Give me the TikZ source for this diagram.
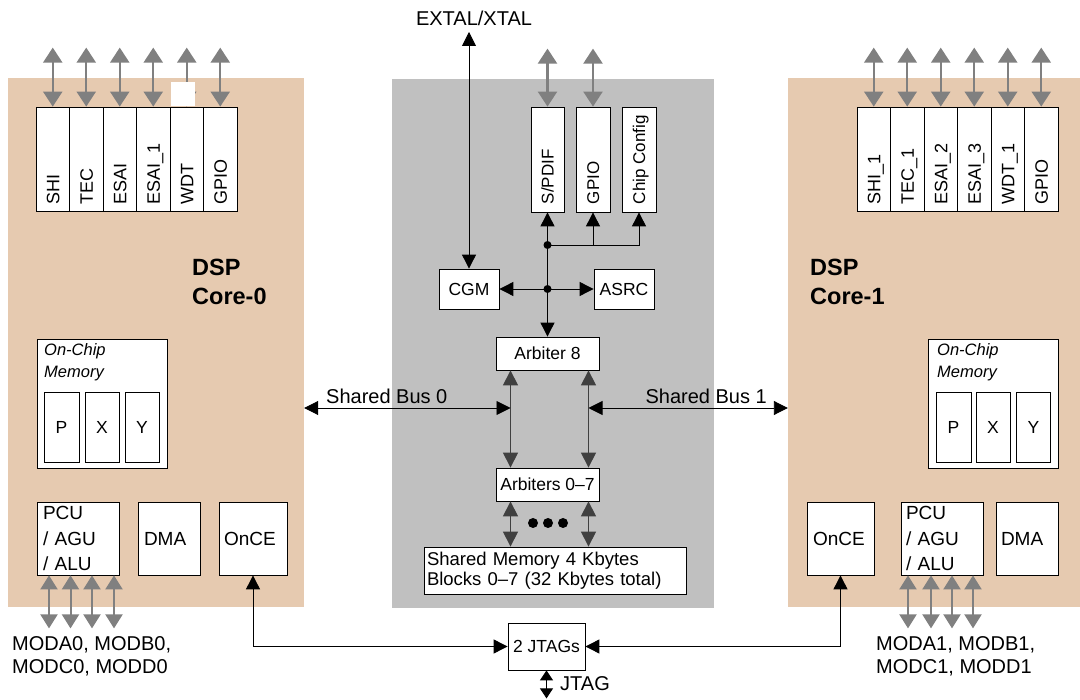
\documentclass[tikz,border=0pt]{standalone}
\usepackage{fontspec}
\setmainfont{Liberation Sans}
\usetikzlibrary{arrows.meta}
\definecolor{peach}{RGB}{230,202,176}
\definecolor{midgray}{RGB}{192,192,192}
\definecolor{arrgray}{RGB}{128,128,128}
\begin{document}
\begin{tikzpicture}[x=1pt,y=-1pt,
  font=\fontsize{19}{23}\selectfont,
  panel/.style={draw=none, inner sep=0pt},
  box/.style={draw=black, line width=0.8pt, fill=white, inner sep=0pt},
  lbl/.style={inner sep=0pt, font=\fontsize{20}{23}\selectfont},
  sml/.style={font=\fontsize{17.5}{20}\selectfont},
  vlbl/.style={rotate=90, anchor=base west, inner sep=0pt, font=\fontsize{18}{20}\selectfont},
  vlblc/.style={rotate=90, anchor=base west, inner sep=0pt, font=\fontsize{17}{20}\selectfont},
  memlbl/.style={anchor=base west, inner sep=0pt, font=\fontsize{16.5}{20}\selectfont\itshape},
  dsplbl/.style={anchor=base west, inner sep=0pt, font=\fontsize{23.5}{28}\selectfont\bfseries},
  garr/.style={draw=arrgray, line width=2.2pt, {Triangle[width=19pt,length=15pt]}-{Triangle[width=19pt,length=15pt]}},
  garrs/.style={draw=arrgray, line width=2pt, {Triangle[width=17pt,length=14pt]}-{Triangle[width=17pt,length=14pt]}},
  bline/.style={draw=black, line width=0.9pt},
  barr/.style={bline, -{Triangle[width=14pt,length=14pt]}},
  bboth/.style={bline, {Triangle[width=14pt,length=14pt]}-{Triangle[width=14pt,length=14pt]}},
  dboth/.style={draw=black!75, line width=1.2pt, {Triangle[width=15pt,length=15pt]}-{Triangle[width=15pt,length=15pt]}},
]
\useasboundingbox (0,0) rectangle (1080,700);

% panels
\node[panel, fill=peach, minimum width=296, minimum height=529] (core0) at (156,342.5) {};
\node[panel, fill=midgray, minimum width=322, minimum height=529] (mid) at (553,343.5) {};
\node[panel, fill=peach, minimum width=292, minimum height=529] (core1) at (934,342.5) {};

% left peripheral stack
\foreach \t [count=\i from 0, evaluate=\i as \cx using 52.75+33.5*\i] in {SHI,TEC,ESAI,ESAI\_1,WDT,GPIO}{
  \node[box, minimum width=33.5, minimum height=104] (l\i) at (\cx,159) {};
  \node[vlbl] (lt\i) at ([shift={(6.5pt,7pt)}]l\i.south) {\t};
  \draw[garr] (l\i.north) -- ++(0,-59);
}
\fill[white] (171,82) rectangle (195,106.5);

% right peripheral stack
\foreach \t [count=\i from 0, evaluate=\i as \cx using 873.75+33.5*\i] in {SHI\_1,TEC\_1,ESAI\_2,ESAI\_3,WDT\_1,GPIO}{
  \node[box, minimum width=33.5, minimum height=104] (r\i) at (\cx,159) {};
  \node[vlbl] (rt\i) at ([shift={(6.5pt,7pt)}]r\i.south) {\t};
  \draw[garr] (r\i.north) -- ++(0,-59);
}

% DSP labels
\node[dsplbl] (dsp0) at (192,276) {DSP};
\node[dsplbl] (core0t) at (192,305) {Core-0};
\node[dsplbl] (dsp1) at (810,276) {DSP};
\node[dsplbl] (core1t) at (810,305) {Core-1};

% on-chip memory left
\node[box, minimum width=130, minimum height=129] (mem0) at (102,403.5) {};
\node[memlbl] (mem0a) at (44,356) {On-Chip};
\node[memlbl] (mem0b) at (44,378) {Memory};
\node[box, minimum width=35, minimum height=70, font=\fontsize{17.5}{20}\selectfont] (p0) at (61.5,427) {P};
\node[box, minimum width=34, minimum height=70, font=\fontsize{17.5}{20}\selectfont] (x0) at (102,427) {X};
\node[box, minimum width=34, minimum height=70, font=\fontsize{17.5}{20}\selectfont] (y0) at (142,427) {Y};

% on-chip memory right
\node[box, minimum width=130, minimum height=129] (mem1) at (993,403.5) {};
\node[memlbl] (mem1a) at (937,356) {On-Chip};
\node[memlbl] (mem1b) at (937,378) {Memory};
\node[box, minimum width=35, minimum height=70, font=\fontsize{17.5}{20}\selectfont] (p1) at (953.5,427) {P};
\node[box, minimum width=34, minimum height=70, font=\fontsize{17.5}{20}\selectfont] (x1) at (993,427) {X};
\node[box, minimum width=34, minimum height=70, font=\fontsize{17.5}{20}\selectfont] (y1) at (1033.5,427) {Y};

% lower blocks left
\node[box, minimum height=73, text width=70, align=left, inner xsep=6pt, font=\fontsize{19}{25.5}\selectfont] (pcu0) at (78,538.5) {PCU\\/~AGU\\/~ALU};
\node[box, minimum height=73, text width=50, align=left, inner xsep=6pt] (dma0) at (169,538.5) {DMA};
\node[box, minimum height=73, text width=58, align=left, inner xsep=5pt] (once0) at (253,538.5) {OnCE};

% lower blocks right
\node[box, minimum height=73, text width=55, align=left, inner xsep=6pt] (once1) at (840.5,538.5) {OnCE};
\node[box, minimum height=73, text width=72, align=left, inner xsep=5pt, font=\fontsize{19}{25.5}\selectfont] (pcu1) at (942,538.5) {PCU\\/~AGU\\/~ALU};
\node[box, minimum height=73, text width=52, align=left, inner xsep=5pt] (dma1) at (1027,538.5) {DMA};

% mode pins
\foreach \dx in {-29,-7.5,14,36}{
  \draw[garrs] ([xshift=\dx pt]pcu0.south) -- ++(0,53);
}
\foreach \dx in {-34,-11,10,31}{
  \draw[garrs] ([xshift=\dx pt]pcu1.south) -- ++(0,53);
}
\node[lbl, anchor=base west] (mod0a) at (12,650) {MODA0, MODB0,};
\node[lbl, anchor=base west] (mod0b) at (12,673) {MODC0, MODD0};
\node[lbl, anchor=base west] (mod1a) at (876,650) {MODA1, MODB1,};
\node[lbl, anchor=base west] (mod1b) at (876,673) {MODC1, MODD1};

% center top peripherals
\node[box, minimum width=33, minimum height=105] (spdif) at (547.5,159.5) {};
\node[box, minimum width=34, minimum height=105] (gpioc) at (593,159.5) {};
\node[box, minimum width=34, minimum height=105] (cfg) at (639,159.5) {};
\node[vlblc] (spdift) at ([shift={(6pt,8pt)}]spdif.south) {S/PDIF};
\node[vlblc] (gpioct) at ([shift={(6pt,8pt)}]gpioc.south) {GPIO};
\node[vlblc] (cfgt) at ([shift={(6pt,8pt)}]cfg.south) {Chip Config};
\draw[garr] (spdif.north) -- ++(0,-58);
\draw[garr] (gpioc.north) -- ++(0,-58);

% clock and ASRC
\node[lbl, anchor=base] (extal) at (474,26) {EXTAL/XTAL};
\node[box, minimum width=60, minimum height=40, sml] (cgm) at (469,289) {CGM};
\node[box, minimum width=60, minimum height=40, sml] (asrc) at (624,289) {ASRC};
\coordinate (xt) at (469,32);
\draw[bboth] (xt) -- (cgm.north);

\node[box, minimum width=103, minimum height=33, sml] (arb8) at (547.5,353.5) {Arbiter 8};
\coordinate (d1) at (547.5,245);
\coordinate (d2) at (547.5,289);
\draw[bline] (d2) -- (d1);
\draw[barr] (d1) -- (spdif.south);
\draw[barr] (d1) -- (d1 -| cfg.south) -- (cfg.south);
\draw[barr] (d1 -| gpioc.south) -- (gpioc.south);
\draw[bboth] (cgm.east) -- (asrc.west);
\draw[barr] (d2) -- (arb8.north);
\fill (d1) circle[radius=4pt];
\fill (d2) circle[radius=4pt];

% arbiters and shared memory
\node[box, minimum width=103, minimum height=33, sml] (arb07) at (547.5,484.5) {Arbiters 0--7};
\node[box, minimum width=262, minimum height=47, text width=256, align=left, inner xsep=3pt, font=\fontsize{18.5}{19.5}\selectfont] (shmem) at (555,570.5) {Shared Memory 4 Kbytes\\Blocks 0--7 (32 Kbytes total)};

\coordinate (ua) at ([xshift=-37pt]arb8.south);
\coordinate (ub) at ([xshift=41pt]arb8.south);
\draw[dboth] (ua) -- (ua |- arb07.north);
\draw[dboth] (ub) -- (ub |- arb07.north);
\coordinate (la) at ([xshift=-37pt]arb07.south);
\coordinate (lb) at ([xshift=41pt]arb07.south);
\draw[dboth] (la) -- (la |- shmem.north);
\draw[dboth] (lb) -- (lb |- shmem.north);
\fill (533,523) circle[radius=5pt];
\fill (548,523) circle[radius=5pt];
\fill (563,523) circle[radius=5pt];

% shared buses
\coordinate (b0) at (510.5,408);
\coordinate (b1) at (588.5,408);
\draw[bboth] (b0 -| core0.east) -- (b0);
\draw[bboth] (b1) -- (b1 -| core1.west);
\node[lbl, anchor=base west] (sb0) at (326,404) {Shared Bus 0};
\node[lbl, anchor=base east] (sb1) at (767,404) {Shared Bus 1};

% JTAG
\node[box, minimum width=77, minimum height=47, sml] (jt) at (546.5,646.5) {2 JTAGs};
\draw[bboth] (once0.south) -- (once0.south |- jt.west) -- (jt.west);
\draw[bboth] (once1.south) -- (once1.south |- jt.east) -- (jt.east);
\draw[bline, {Triangle[width=13pt,length=10pt]}-{Triangle[width=13pt,length=10pt]}] (jt.south) -- ++(0,28);
\node[lbl, anchor=base west] (jtag) at (560,690) {JTAG};
\end{tikzpicture}
\end{document}
